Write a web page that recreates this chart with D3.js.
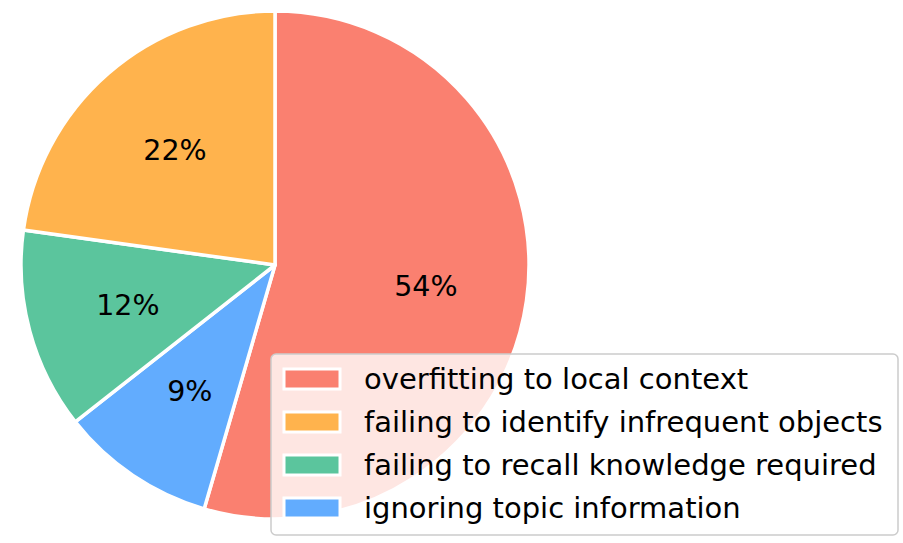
<!DOCTYPE html>
<html>
<head>
<meta charset="utf-8">
<script src="https://cdn.jsdelivr.net/npm/d3@7"></script>
<style>
  body { margin: 0; background: #fff; }
  svg { display: block; font-family: "DejaVu Sans", sans-serif; }
</style>
</head>
<body>
<svg id="chart"></svg>
<script>
var width = 903;
var height = 543;

// error categories and their share (percent)
var categories = [
  "overfitting to local context",
  "failing to identify infrequent objects",
  "failing to recall knowledge required",
  "ignoring topic information"
];
var shares = [54.5, 22.8, 12.8, 9.9];
var colors = ["#fa8070", "#ffb34d", "#5bc59d", "#62acfe"];

// slice order going clockwise from 12 o'clock
var drawOrder = [0, 3, 2, 1];

var cx = 275, cy = 265, radius = 254;

var svg = d3.select("#chart")
  .attr("width", width)
  .attr("height", height);

var pie = d3.pie()
  .sort(null)
  .value(function(d) { return shares[d]; });

var arc = d3.arc().innerRadius(0).outerRadius(radius);
var labelArc = d3.arc().innerRadius(radius * 0.6).outerRadius(radius * 0.6);

var g = svg.append("g").attr("transform", "translate(" + cx + "," + cy + ")");

var arcs = pie(drawOrder);

g.selectAll("path.slice")
  .data(arcs)
  .enter()
  .append("path")
  .attr("class", "slice")
  .attr("d", arc)
  .style("fill", function(d) { return colors[d.data]; })
  .style("stroke", "#fff")
  .style("stroke-width", 3.5)
  .style("stroke-linejoin", "round");

g.selectAll("text.pct")
  .data(arcs)
  .enter()
  .append("text")
  .attr("class", "pct")
  .attr("transform", function(d) { return "translate(" + labelArc.centroid(d) + ")"; })
  .attr("text-anchor", "middle")
  .attr("dy", "0.35em")
  .style("font-size", "28.5px")
  .style("fill", "#000")
  .text(function(d) { return Math.floor(shares[d.data]) + "%"; });

// legend, lower right, overlapping the pie
var legend = svg.append("g");

legend.append("rect")
  .attr("x", 271)
  .attr("y", 354)
  .attr("width", 627)
  .attr("height", 181)
  .attr("rx", 5)
  .style("fill", "#fff")
  .style("fill-opacity", 0.8)
  .style("stroke", "#cccccc")
  .style("stroke-width", 1.5);

var rowY = d3.scalePoint()
  .domain(d3.range(categories.length))
  .range([379, 508]);

var rows = legend.selectAll("g.row")
  .data(categories)
  .enter()
  .append("g")
  .attr("class", "row")
  .attr("transform", function(d, i) { return "translate(0," + rowY(i) + ")"; });

rows.append("rect")
  .attr("x", 284)
  .attr("y", -10)
  .attr("width", 56)
  .attr("height", 20)
  .style("fill", function(d, i) { return colors[i]; })
  .style("stroke", "#fff")
  .style("stroke-width", 3);

rows.append("text")
  .attr("x", 364)
  .attr("dy", "0.35em")
  .style("font-size", "29px")
  .style("fill", "#000")
  .text(function(d) { return d; });
</script>
</body>
</html>
